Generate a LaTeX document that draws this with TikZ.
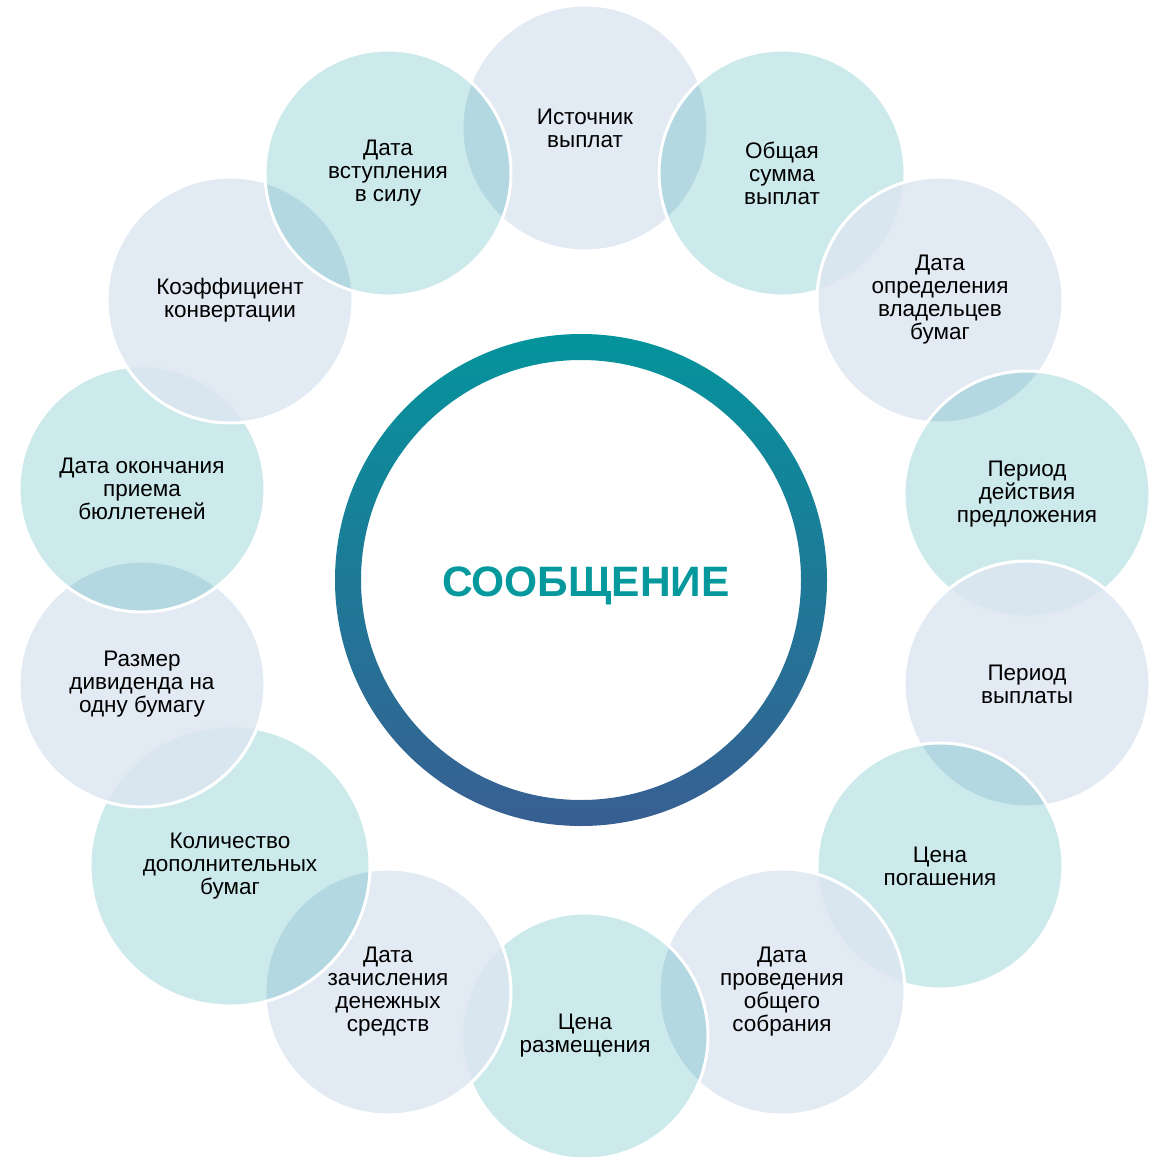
\documentclass[tikz,border=0pt]{standalone}
\usepackage{fontspec}
\setmainfont{Liberation Sans}
\usetikzlibrary{positioning}

\definecolor{bubbleblue}{RGB}{221,230,241}
\definecolor{bubbleteal}{RGB}{0,150,155}
\definecolor{ringtop}{RGB}{4,148,156}
\definecolor{ringbot}{RGB}{56,95,146}
\definecolor{msgteal}{RGB}{5,152,156}

\begin{document}
\begin{tikzpicture}[
  bubble/.style={circle,draw=white,line width=1.7pt,minimum size=4.92cm,inner sep=0pt,
    align=center,font=\fontsize{12.8}{13.1}\selectfont,text opacity=1},
  bluebubble/.style={bubble,fill=bubbleblue,fill opacity=0.85},
  tealbubble/.style={bubble,fill=bubbleteal,fill opacity=0.2},
]
\useasboundingbox (-11.68,-11.48) rectangle (11.54,11.64);

% ring in the middle
\shade[top color=ringtop,bottom color=ringbot,even odd rule]
  (-0.06,0.04) circle (4.92) (-0.06,0.04) circle (4.40);
\node[font=\fontsize{24.2}{28}\selectfont\bfseries,text=msgteal] (msg) at (0.04,-0.08) {СООБЩЕНИЕ};

% bubbles, clockwise from the top
\node[bluebubble] (source) at (0.02,9.08) {Источник\\выплат};
\node[tealbubble] (total) at (3.96,8.18) {Общая\\сумма\\выплат};
\node[bluebubble] (owners) at (7.12,5.64) {Дата\\определения\\владельцев\\бумаг};
\node[tealbubble] (offer) at (8.86,1.76) {Период\\действия\\предложения};
\node[bluebubble] (payperiod) at (8.86,-2.04) {Период\\выплаты};
\node[tealbubble] (redeem) at (7.12,-5.68) {Цена\\погашения};
\node[bluebubble] (meeting) at (3.96,-8.20) {Дата\\проведения\\общего\\собрания};
\node[tealbubble] (placing) at (0.02,-9.08) {Цена\\размещения};
\node[bluebubble] (credit) at (-3.92,-8.20) {Дата\\зачисления\\денежных\\средств};
\node[tealbubble,minimum size=5.6cm] (extra) at (-7.08,-5.68) {Количество\\дополнительных\\бумаг};
\node[bluebubble] (dividend) at (-8.84,-2.04) {Размер\\дивиденда на\\одну бумагу};
\node[tealbubble] (ballots) at (-8.84,1.86) {Дата окончания\\приема\\бюллетеней};
\node[bluebubble] (ratio) at (-7.08,5.64) {Коэффициент\\конвертации};
\node[tealbubble] (effective) at (-3.92,8.18) {Дата\\вступления\\в силу};
\end{tikzpicture}
\end{document}
